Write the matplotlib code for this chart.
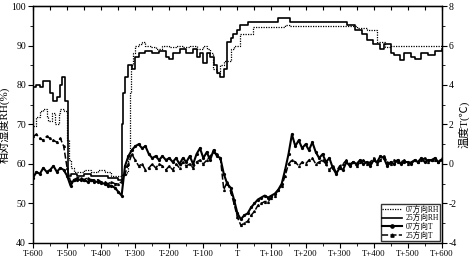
import matplotlib.pyplot as plt
import numpy as np
from matplotlib.ticker import MultipleLocator

plt.rcParams['font.family'] = ['Liberation Serif', 'Noto Sans CJK SC']
plt.rcParams['axes.unicode_minus'] = False

# x tick labels
tick_pos = [-600, -500, -400, -300, -200, -100, 0, 100, 200, 300, 400, 500, 600]
tick_labels = ['T-600', 'T-500', 'T-400', 'T-300', 'T-200', 'T-100', 'T',
               'T+100', 'T+200', 'T+300', 'T+400', 'T+500', 'T+600']

# 07 direction RH (dotted)
rh07_t = [-600, -590, -580, -570, -560, -555, -545, -535, -525, -520, -510, -500, -495,
          -490, -480, -450, -430, -410, -390, -370, -340, -325, -320, -315, -312, -308,
          -300, -290, -280, -270, -255, -240, -220, -200, -180, -160, -140, -120, -100,
          -90, -80, -72, -60, -50, -40, -30, -20, -10, 7, 47, 140, 155, 350, 380, 409,
          433, 450, 600]
rh07 = [69.5, 72, 73.5, 74, 72, 71, 73, 70, 73, 74, 73.5, 66, 61,
        59, 58, 58.5, 58, 58.5, 58, 57, 57.5, 58, 62, 78, 85, 88,
        90, 90.5, 91, 90, 89.5, 89, 90, 89.5, 90, 89.5, 90, 89, 90,
        89, 88, 84, 83, 85, 86, 86, 89, 90, 93, 94.8, 95.3, 95, 94.5, 94, 91,
        89.5, 90, 89.8]

# 25 direction RH (solid)
rh25_t = [-600, -590, -580, -570, -560, -550, -540, -530, -520, -515, -505, -497,
          -490, -470, -450, -430, -400, -380, -350, -340, -335, -330, -320, -310,
          -300, -290, -270, -250, -230, -210, -200, -190, -170, -150, -130, -120,
          -110, -100, -90, -80, -70, -60, -50, -40, -30, -20, -13, -2, 7, 31, 119,
          154, 321, 345, 365, 380, 398, 420, 430, 450, 460, 477, 490, 510, 521, 540,
          560, 580, 600]
rh25 = [79.5, 80, 79.5, 81, 81, 78, 76, 77, 80, 82, 76, 57,
        57.5, 57, 57.5, 57, 57, 56.5, 56, 70, 78, 82, 85, 84,
        87, 88, 88.5, 88, 88.5, 87, 86.5, 88, 89, 88, 89, 87,
        88, 85.5, 88, 87, 85, 83, 82, 84, 91, 92, 93, 94, 95.2, 96, 97,
        96, 95.2, 93.8, 92.8, 91.5, 90.5, 89, 90.5, 88, 87.5, 86.3, 88, 87, 86.5, 88,
        87.5, 88.5, 89]

# temperatures, one value every 10 s from T-600 to T+600
t_time = np.arange(-600, 601, 10)
t07 = [-0.7, -0.4, -0.5, -0.2, -0.4, -0.3, -0.1, -0.4, -0.2, -0.3,
       -0.6, -1.1, -0.8, -0.8, -0.8, -0.8, -0.9, -0.8, -0.9, -0.9,
       -0.95, -1.0, -1.1, -1.1, -1.2, -1.4, -1.6, -0.1, 0.4, 0.7,
       0.9, 1.0, 0.8, 0.9, 0.5, 0.3, 0.4, 0.2, 0.4, 0.2,
       0.3, 0.1, 0.3, 0.0, 0.3, 0.1, 0.4, 0.0, 0.5, 0.8,
       0.3, 0.6, 0.2, 0.7, 0.4, 0.3, -0.5, -1.0, -1.2, -1.8,
       -2.5, -2.8, -2.6, -2.5, -2.2, -2.0, -1.8, -1.7, -1.6, -1.7,
       -1.6, -1.5, -1.3, -1.0, -0.3, 0.5, 1.5, 0.9, 1.2, 0.8,
       1.0, 0.7, 1.1, 0.6, 0.3, 0.5, 0.1, 0.3, -0.2, -0.5,
       -0.2, -0.3, 0.1, -0.1, 0.1, 0.0, 0.2, 0.0, 0.1, -0.1,
       0.2, 0.1, 0.4, 0.3, -0.1, 0.1, 0.0, 0.2, 0.0, 0.1,
       0.1, 0.0, 0.2, 0.1, 0.3, 0.1, 0.2, 0.2, 0.3, 0.1,
       0.2]
t25 = [1.4, 1.5, 1.3, 1.2, 1.4, 1.3, 1.2, 1.1, 1.3, 0.9,
       -0.2, -0.9, -0.8, -0.7, -0.7, -0.8, -0.7, -0.8, -0.8, -0.8,
       -0.9, -0.9, -1.0, -0.9, -1.0, -1.0, -0.9, -0.5, 0.0, 0.5,
       0.2, -0.1, 0.0, -0.3, -0.2, 0.0, -0.2, 0.0, -0.1, -0.3,
       -0.1, -0.3, 0.0, -0.2, 0.1, -0.1, 0.0, -0.2, 0.1, 0.2,
       0.0, 0.2, 0.4, 0.6, 0.5, 0.3, -1.3, -0.9, -1.4, -2.0,
       -2.7, -3.1, -3.0, -2.9, -2.6, -2.4, -2.1, -2.0, -1.9, -1.9,
       -1.7, -1.6, -1.3, -1.1, -0.6, 0.0, 0.2, 0.1, -0.1, 0.1,
       0.0, 0.2, 0.3, 0.0, 0.1, 0.2, 0.0, -0.3, -0.1, -0.4,
       -0.1, 0.0, 0.2, 0.0, 0.1, -0.1, 0.1, 0.2, 0.0, 0.1,
       0.3, 0.0, 0.2, 0.4, 0.1, 0.0, 0.2, 0.1, 0.1, 0.2,
       0.0, 0.1, 0.2, 0.1, 0.2, 0.3, 0.1, 0.2, 0.2, 0.1,
       0.3]

fig = plt.figure(figsize=(4.72, 2.61), dpi=100)
ax = fig.add_axes([0.070, 0.069, 0.866, 0.908])
ax2 = ax.twinx()

l1, = ax.plot(rh07_t, rh07, color='black', lw=0.9, ls=(0, (1, 1)), drawstyle='steps-post')
l2, = ax.plot(rh25_t, rh25, color='black', lw=1.2, drawstyle='steps-post')
l3, = ax2.plot(t_time, t07, color='black', lw=1.5, marker='o', ms=1.3)
l4, = ax2.plot(t_time, t25, color='black', lw=1.1, ls=(0, (4, 1.5)), marker='^', ms=1.3)

ax.set_xlim(-600, 600)
ax.set_ylim(40, 100)
ax2.set_ylim(-4, 8)

ax.set_xticks(tick_pos)
ax.set_xticklabels(tick_labels)
ax.xaxis.set_minor_locator(MultipleLocator(50))
ax.yaxis.set_major_locator(MultipleLocator(10))
ax.yaxis.set_minor_locator(MultipleLocator(5))
ax2.yaxis.set_major_locator(MultipleLocator(2))
ax2.yaxis.set_minor_locator(MultipleLocator(1))

for a in (ax, ax2):
    a.tick_params(which='major', direction='out', length=3.5, width=0.8, labelsize=7, pad=1.5)
    a.tick_params(which='minor', direction='out', length=2, width=0.6)
    for s in a.spines.values():
        s.set_linewidth(0.9)
ax.tick_params(axis='x', labelsize=6.3)

top = ax.secondary_xaxis('top')
top.xaxis.set_major_locator(MultipleLocator(50))
top.tick_params(direction='in', length=3, width=0.8, labeltop=False)

ax.set_ylabel('相对湿度RH(%)', fontsize=8, labelpad=1)
ax2.set_ylabel('温度T(℃)', fontsize=8, labelpad=1)

ax.legend([l1, l2, l3, l4], ['07方向RH', '25方向RH', '07方向T', '25方向T'],
          loc='lower right', fontsize=5.5, frameon=True, fancybox=False,
          edgecolor='black', borderaxespad=0.2, labelspacing=0.1,
          handlelength=2.6, handletextpad=0.4, borderpad=0.2, markerscale=1.8)

fig.savefig('out.png', dpi=100)
